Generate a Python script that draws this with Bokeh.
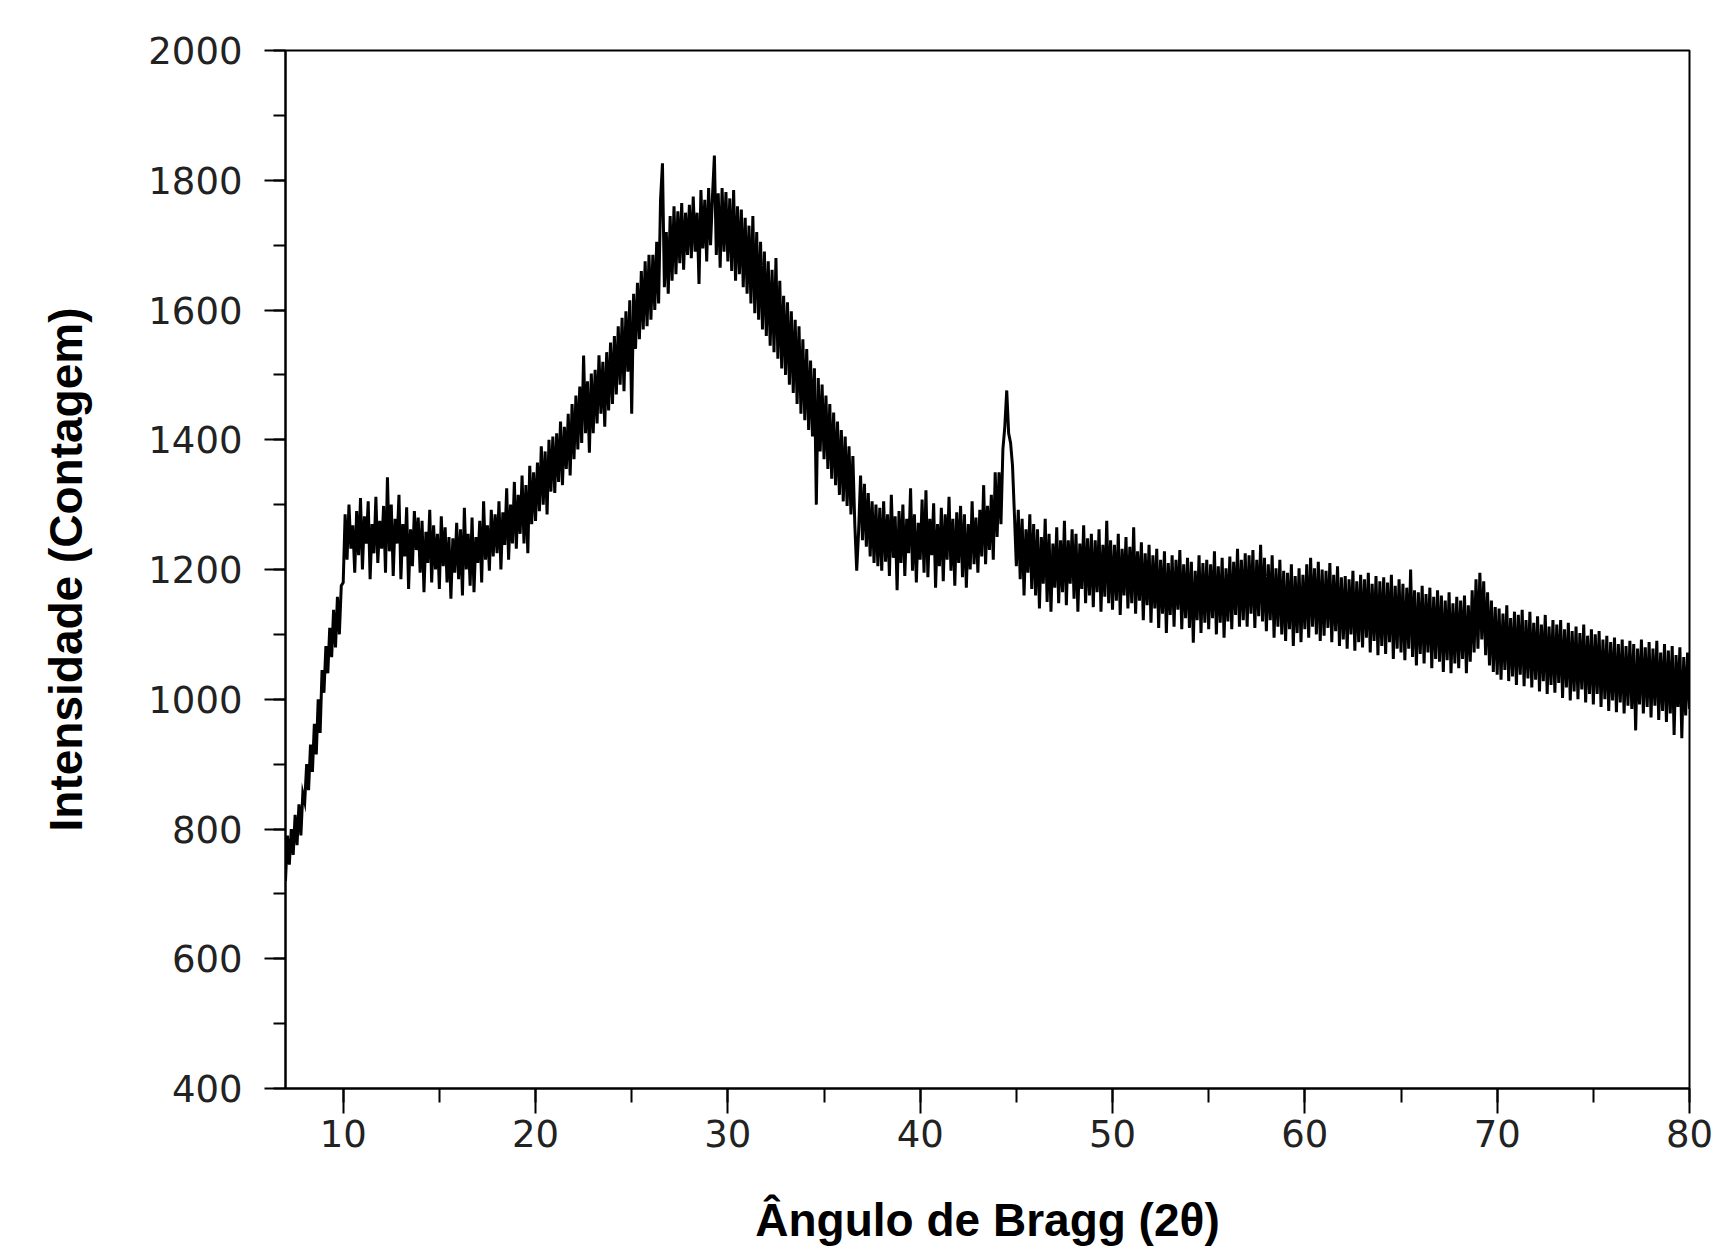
import numpy as np
from bokeh.plotting import figure
from bokeh.models import Range1d, SingleIntervalTicker
from bokeh.embed import file_html
from bokeh.resources import INLINE

# scan angles 2-theta (7.0 .. 80.0 deg, step 0.1)
two_theta_start = 7.0
two_theta_end = 80.0
n_points = 731
angles = np.linspace(two_theta_start, two_theta_end, n_points)

# intensity (counts), one row per degree (x.0 .. x.9)
intensity_rows = [
    [720, 790, 745, 800, 760, 822, 775, 838, 790, 855],            # 7
    [842, 900, 860, 930, 888, 962, 915, 1000, 948, 1045],          # 8
    [1010, 1082, 1040, 1110, 1065, 1138, 1080, 1158, 1100, 1175],  # 9
    [1180, 1285, 1215, 1300, 1232, 1268, 1195, 1290, 1222, 1310],  # 10
    [1200, 1282, 1240, 1305, 1185, 1270, 1225, 1312, 1210, 1275],  # 11
    [1232, 1298, 1195, 1342, 1228, 1300, 1190, 1278, 1240, 1315],  # 12
    [1185, 1270, 1220, 1296, 1170, 1262, 1205, 1290, 1230, 1280],  # 13
    [1195, 1275, 1165, 1258, 1210, 1292, 1180, 1268, 1200, 1255],  # 14
    [1170, 1282, 1205, 1265, 1180, 1250, 1155, 1248, 1195, 1272],  # 15
    [1185, 1262, 1160, 1295, 1200, 1255, 1175, 1280, 1165, 1250],  # 16
    [1210, 1275, 1180, 1305, 1215, 1268, 1198, 1292, 1220, 1285],  # 17
    [1225, 1305, 1200, 1288, 1238, 1325, 1215, 1300, 1240, 1335],  # 18
    [1232, 1315, 1255, 1345, 1240, 1330, 1225, 1360, 1270, 1350],  # 19
    [1275, 1365, 1290, 1390, 1300, 1382, 1285, 1400, 1320, 1405],  # 20
    [1318, 1410, 1335, 1428, 1330, 1420, 1355, 1440, 1345, 1455],  # 21
    [1370, 1468, 1385, 1482, 1395, 1530, 1410, 1490, 1380, 1502],  # 22
    [1410, 1508, 1425, 1530, 1440, 1520, 1420, 1535, 1445, 1550],  # 23
    [1455, 1560, 1470, 1575, 1485, 1588, 1475, 1598, 1505, 1615],  # 24
    [1440, 1625, 1540, 1642, 1555, 1660, 1570, 1675, 1575, 1685],  # 25
    [1585, 1685, 1600, 1705, 1610, 1770, 1826, 1635, 1720, 1625],  # 26
    [1745, 1645, 1760, 1655, 1752, 1672, 1765, 1662, 1750, 1685],  # 27
    [1762, 1680, 1775, 1690, 1750, 1640, 1785, 1695, 1770, 1675],  # 28
    [1788, 1700, 1775, 1838, 1685, 1780, 1665, 1788, 1690, 1782],  # 29
    [1675, 1772, 1660, 1785, 1645, 1760, 1655, 1755, 1635, 1742],  # 30
    [1625, 1730, 1610, 1745, 1595, 1720, 1585, 1705, 1570, 1690],  # 31
    [1560, 1675, 1545, 1662, 1535, 1680, 1525, 1645, 1510, 1622],  # 32
    [1500, 1612, 1485, 1598, 1472, 1585, 1455, 1575, 1440, 1555],  # 33
    [1430, 1540, 1415, 1522, 1405, 1510, 1300, 1495, 1382, 1485],  # 34
    [1370, 1468, 1355, 1455, 1340, 1442, 1330, 1428, 1315, 1415],  # 35
    [1305, 1405, 1298, 1390, 1285, 1375, 1270, 1198, 1260, 1345],  # 36
    [1245, 1332, 1235, 1318, 1220, 1305, 1210, 1300, 1205, 1295],  # 37
    [1198, 1305, 1212, 1285, 1190, 1315, 1218, 1282, 1168, 1290],  # 38
    [1210, 1300, 1190, 1278, 1225, 1325, 1198, 1285, 1180, 1272],  # 39
    [1215, 1308, 1195, 1322, 1188, 1278, 1222, 1302, 1172, 1270],  # 40
    [1205, 1295, 1182, 1285, 1215, 1312, 1198, 1278, 1175, 1288],  # 41
    [1210, 1298, 1188, 1285, 1172, 1270, 1200, 1305, 1208, 1280],  # 42
    [1195, 1292, 1220, 1330, 1208, 1298, 1230, 1315, 1215, 1350],  # 43
    [1250, 1350, 1270, 1385, 1420, 1476, 1410, 1395, 1360, 1285],  # 44
    [1205, 1292, 1185, 1278, 1160, 1262, 1195, 1285, 1170, 1270],  # 45
    [1160, 1262, 1140, 1250, 1178, 1278, 1150, 1255, 1135, 1240],  # 46
    [1172, 1265, 1148, 1245, 1165, 1275, 1145, 1245, 1178, 1262],  # 47
    [1155, 1255, 1135, 1240, 1170, 1268, 1148, 1248, 1160, 1255],  # 48
    [1142, 1245, 1165, 1262, 1135, 1238, 1158, 1275, 1148, 1245],  # 49
    [1138, 1238, 1152, 1255, 1130, 1232, 1160, 1250, 1140, 1235],  # 50
    [1148, 1265, 1132, 1228, 1152, 1242, 1122, 1225, 1145, 1238],  # 51
    [1118, 1222, 1140, 1232, 1110, 1215, 1132, 1228, 1102, 1210],  # 52
    [1130, 1222, 1112, 1215, 1138, 1230, 1108, 1208, 1125, 1218],  # 53
    [1110, 1212, 1087, 1198, 1122, 1222, 1102, 1210, 1118, 1215],  # 54
    [1108, 1208, 1125, 1228, 1100, 1205, 1118, 1218, 1095, 1202],  # 55
    [1120, 1220, 1108, 1212, 1130, 1232, 1112, 1215, 1122, 1225],  # 56
    [1112, 1222, 1132, 1230, 1110, 1215, 1128, 1238, 1120, 1218],  # 57
    [1105, 1208, 1122, 1222, 1095, 1202, 1112, 1215, 1100, 1198],  # 58
    [1090, 1195, 1108, 1208, 1082, 1190, 1102, 1202, 1088, 1192],  # 59
    [1108, 1208, 1095, 1218, 1112, 1202, 1100, 1212, 1090, 1200],  # 60
    [1098, 1198, 1110, 1210, 1088, 1192, 1105, 1205, 1082, 1188],  # 61
    [1092, 1190, 1078, 1185, 1100, 1198, 1075, 1182, 1088, 1192],  # 62
    [1080, 1185, 1095, 1195, 1072, 1178, 1090, 1190, 1068, 1182],  # 63
    [1082, 1188, 1070, 1180, 1088, 1192, 1062, 1175, 1078, 1185],  # 64
    [1072, 1178, 1060, 1172, 1078, 1200, 1065, 1168, 1052, 1165],  # 65
    [1070, 1175, 1055, 1162, 1072, 1172, 1048, 1158, 1062, 1168],  # 66
    [1058, 1160, 1042, 1152, 1060, 1165, 1040, 1148, 1055, 1158],  # 67
    [1048, 1152, 1062, 1160, 1040, 1145, 1058, 1168, 1072, 1185],  # 68
    [1078, 1195, 1092, 1182, 1068, 1165, 1052, 1152, 1042, 1142],  # 69
    [1038, 1140, 1030, 1132, 1045, 1145, 1028, 1125, 1035, 1135],  # 70
    [1022, 1130, 1038, 1138, 1020, 1122, 1032, 1135, 1018, 1118],  # 71
    [1030, 1128, 1012, 1115, 1028, 1130, 1008, 1112, 1022, 1122],  # 72
    [1010, 1115, 1025, 1122, 1002, 1108, 1018, 1118, 998, 1105],   # 73
    [1012, 1112, 1000, 1102, 1015, 1115, 995, 1098, 1008, 1108],   # 74
    [992, 1100, 1008, 1105, 988, 1092, 1000, 1098, 982, 1088],     # 75
    [998, 1095, 980, 1085, 995, 1092, 978, 1082, 990, 1090],       # 76
    [985, 1085, 952, 1078, 992, 1092, 978, 1080, 988, 1088],       # 77
    [972, 1078, 990, 1090, 968, 1072, 982, 1085, 965, 1075],       # 78
    [978, 1082, 945, 1068, 988, 1080, 940, 1065, 975, 1072],       # 79
]
intensity_last = [985]                                             # 80.0

x_ticks_interval = 10
y_ticks_interval = 200
x_label = "Ângulo de Bragg (2θ)"
y_label = "Intensidade (Contagem)"

intensity = [v for row in intensity_rows for v in row] + intensity_last

p = figure(
    width=1727, height=1253,
    x_range=Range1d(two_theta_start, two_theta_end),
    y_range=Range1d(400, 2000),
    output_backend="svg", toolbar_location=None,
    min_border_left=285, min_border_right=38,
    min_border_top=50, min_border_bottom=165,
)
p.background_fill_color = "white"
p.border_fill_color = "white"
p.outline_line_color = "black"
p.outline_line_width = 2
p.xgrid.visible = False
p.ygrid.visible = False

p.line(angles, intensity, line_color="black", line_width=3, line_join="miter")

p.xaxis.ticker = SingleIntervalTicker(interval=x_ticks_interval, num_minor_ticks=2)
p.yaxis.ticker = SingleIntervalTicker(interval=y_ticks_interval, num_minor_ticks=2)

for ax in (p.xaxis[0], p.yaxis[0]):
    ax.axis_line_color = "black"
    ax.axis_line_width = 2
    ax.major_tick_line_color = "black"
    ax.major_tick_line_width = 2
    ax.minor_tick_line_color = "black"
    ax.minor_tick_line_width = 2
    ax.major_tick_in = 0
    ax.minor_tick_in = 0
    ax.major_label_text_font = "DejaVu Sans"
    ax.major_label_text_font_size = "37px"
    ax.major_label_text_color = "#222222"
    ax.axis_label_text_font = "Liberation Sans"
    ax.axis_label_text_font_style = "bold"
    ax.axis_label_text_font_size = "46px"
    ax.axis_label_text_color = "black"

p.xaxis.major_tick_out = 25
p.xaxis.minor_tick_out = 14
p.yaxis.major_tick_out = 21
p.yaxis.minor_tick_out = 12
p.xaxis.major_label_standoff = 6
p.yaxis.major_label_standoff = 22
p.xaxis.axis_label = x_label
p.yaxis.axis_label = y_label
p.xaxis.axis_label_standoff = 44
p.yaxis.axis_label_standoff = 53

open("out.html", "w").write(file_html(p, INLINE))
